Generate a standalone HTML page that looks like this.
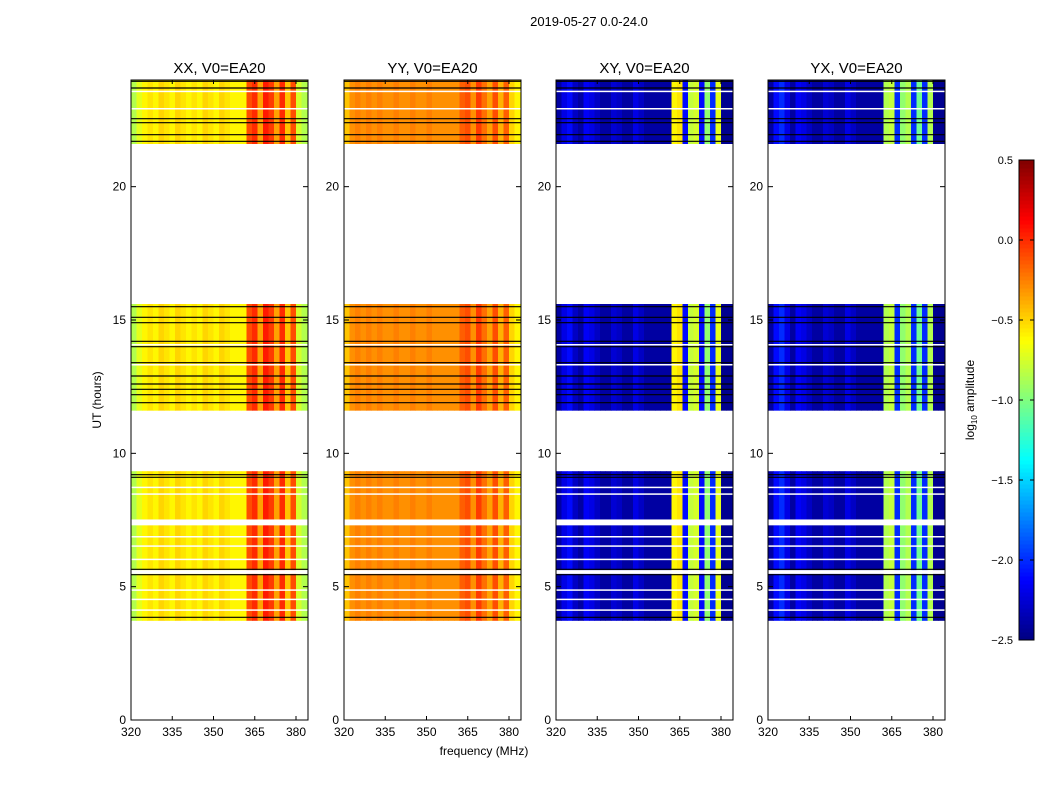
<!DOCTYPE html>
<html><head><meta charset="utf-8">
<style>
body{margin:0;background:#fff;font-family:"Liberation Sans",sans-serif;}
svg text{font-family:"Liberation Sans",sans-serif;}
</style></head>
<body>
<svg id="chart" width="1050" height="800" xmlns="http://www.w3.org/2000/svg">
<text x="589" y="26" font-size="13" text-anchor="middle">2019-05-27 0.0-24.0</text>
<g id="panels"></g>
<g id="cbar"></g>
<text x="484" y="755" font-size="12" text-anchor="middle">frequency (MHz)</text>
<text transform="translate(101,400) rotate(-90)" font-size="12" text-anchor="middle">UT (hours)</text>
<text transform="translate(974,400) rotate(-90)" font-size="12" text-anchor="middle">log<tspan font-size="8" dy="3">10</tspan><tspan dy="-3"> amplitude</tspan></text>
</svg>
<script>
// ---- data ----
const panelNames = ["XX, V0=EA20","YY, V0=EA20","XY, V0=EA20","YX, V0=EA20"];
const chanStart = [320,322,324,326,328,330,332,334,336,338,340,342,344,346,348,350,352,354,356,358,360,362,364,366,368,370,372,374,376,378,380,382];
const xxProfile = [-0.85,-0.7,-0.6,-0.55,-0.6,-0.5,-0.55,-0.6,-0.5,-0.55,-0.6,-0.55,-0.6,-0.5,-0.55,-0.6,-0.5,-0.55,-0.6,-0.6,-0.6,-0.1,0.0,-0.35,0.05,-0.05,-0.35,0.0,-0.45,-0.1,-0.75,-0.85];
const yyProfile = [-0.45,-0.3,-0.25,-0.3,-0.25,-0.3,-0.25,-0.3,-0.3,-0.25,-0.3,-0.3,-0.25,-0.3,-0.3,-0.25,-0.3,-0.3,-0.3,-0.3,-0.3,-0.15,-0.1,-0.3,-0.05,-0.2,-0.35,-0.1,-0.4,-0.15,-0.5,-0.6];
const xyProfile = [-2.4,-2.2,-2.1,-2.3,-2.4,-2.15,-2.2,-2.3,-2.4,-2.4,-2.25,-2.3,-2.4,-2.4,-2.2,-2.3,-2.4,-2.4,-2.4,-2.4,-2.4,-0.6,-0.55,-2.1,-0.8,-0.75,-2.1,-0.95,-2.0,-0.7,-2.45,-2.45];
const yxProfile = [-2.4,-2.1,-2.0,-2.2,-2.4,-2.15,-2.2,-2.3,-2.4,-2.4,-2.25,-2.3,-2.4,-2.4,-2.2,-2.3,-2.4,-2.4,-2.4,-2.4,-2.4,-0.85,-0.8,-2.0,-0.95,-0.85,-2.0,-1.05,-2.0,-0.85,-2.45,-2.45];
const blockStart = [3.72, 11.6, 21.6];
const blockEnd = [9.33, 15.6, 24.0];
const whiteGaps = [[7.3,7.52],[5.48,5.62],[4.1,4.15],[4.5,4.55],[4.85,4.9],[6.0,6.05],[6.5,6.55],[6.85,6.9],[8.45,8.5],[8.7,8.75],[14.05,14.1],[13.3,13.35],[22.9,22.95],[23.55,23.6]];
const blackLines = [3.85,5.45,5.65,9.1,9.2,11.9,12.2,12.4,12.6,12.9,13.4,14.0,14.2,14.9,15.1,15.5,21.7,21.95,22.4,22.55,23.7,23.95];
const xTicks = [320,335,350,365,380];
const yTicks = [0,5,10,15,20];
const cbTicks = [-2.5,-2.0,-1.5,-1.0,-0.5,0.0,0.5];
const cbLabels = ["\u22122.5","\u22122.0","\u22121.5","\u22121.0","\u22120.5","0.0","0.5"];

// ---- layout ----
const NS="http://www.w3.org/2000/svg";
const panelX=[131,344,556,768], PW=177, PT=80, PB=720;
const fMin=320, fMax=384.36;
const vMin=-2.5, vMax=0.5;
const yScale=h=>PB-(h/24)*(PB-PT);
function jet(v){
  let t=(v-vMin)/(vMax-vMin); t=Math.max(0,Math.min(1,t));
  const f=x=>Math.round(255*Math.max(0,Math.min(1,1.5-Math.abs(4*t-x))));
  return `rgb(${f(3)},${f(2)},${f(1)})`;
}
function el(tag,attrs,parent){const e=document.createElementNS(NS,tag);for(const k in attrs)e.setAttribute(k,attrs[k]);parent.appendChild(e);return e;}
const profiles=[xxProfile,yyProfile,xyProfile,yxProfile];
const panelsG=document.getElementById('panels');
panelNames.forEach((name,p)=>{
  const x0=panelX[p];
  const xScale=f=>x0+(f-fMin)/(fMax-fMin)*PW;
  const g=el('g',{},panelsG);
  
  
  blockStart.forEach((b0,bi)=>{
    const b1=blockEnd[bi];
    chanStart.forEach((c,ci)=>{
      const c1=ci+1<chanStart.length?chanStart[ci+1]:fMax;
      const r=el('rect',{x:xScale(c),y:yScale(b1),width:xScale(c1)-xScale(c)+0.5,height:yScale(b0)-yScale(b1),fill:jet(profiles[p][ci])},g);
      
      
    });
  });
  whiteGaps.forEach(w=>{
    const r=el('rect',{x:x0,y:yScale(w[1]),width:PW,height:Math.max(1.5,yScale(w[0])-yScale(w[1])),fill:'#fff'},g);
    
    
  });
  blackLines.forEach(t=>{
    const l=el('line',{x1:x0,x2:x0+PW,y1:yScale(t),y2:yScale(t),stroke:'#000','stroke-width':1.2},g);
    
    
  });
  el('rect',{x:x0,y:PT,width:PW,height:PB-PT,fill:'none',stroke:'#000','stroke-width':1},g);
  const t=el('text',{x:x0+PW/2,y:73,'font-size':15,'text-anchor':'middle'},g);t.textContent=name;
  
  
  xTicks.forEach(f=>{
    const x=xScale(f);
    el('line',{x1:x,x2:x,y1:PB,y2:PB-4,stroke:'#000'},g);
    el('line',{x1:x,x2:x,y1:PT,y2:PT+4,stroke:'#000'},g);
    const tx=el('text',{x:x,y:736,'font-size':12,'text-anchor':'middle'},g);tx.textContent=f;
    
    
  });
  yTicks.forEach(h=>{
    const y=yScale(h);
    el('line',{x1:x0,x2:x0+5,y1:y,y2:y,stroke:'#000'},g);
    el('line',{x1:x0+PW,x2:x0+PW-5,y1:y,y2:y,stroke:'#000'},g);
    const ty=el('text',{x:x0-5,y:y+4,'font-size':12,'text-anchor':'end'},g);ty.textContent=h;
    
    
  });
});
// colorbar
const cb=document.getElementById('cbar');


const CX=1019,CW=15,CT=160,CB=640;
const cy=v=>CB-(v-vMin)/(vMax-vMin)*(CB-CT);
for(let i=0;i<120;i++){
  const v0=vMin+(vMax-vMin)*i/120, v1=vMin+(vMax-vMin)*(i+1)/120;
  el('rect',{x:CX,y:cy(v1),width:CW,height:cy(v0)-cy(v1)+0.5,fill:jet((v0+v1)/2)},cb);
}
el('rect',{x:CX,y:CT,width:CW,height:CB-CT,fill:'none',stroke:'#000'},cb);
cbTicks.forEach((v,i)=>{
  const y=cy(v);
  el('line',{x1:CX,x2:CX+4,y1:y,y2:y,stroke:'#000'},cb);
  el('line',{x1:CX+CW,x2:CX+CW-4,y1:y,y2:y,stroke:'#000'},cb);
  const t=el('text',{x:1013,y:y+4,'font-size':11,'text-anchor':'end'},cb);t.textContent=cbLabels[i];
  
  
});
</script>
</body></html>
